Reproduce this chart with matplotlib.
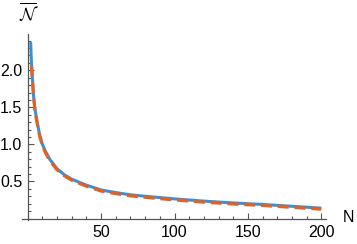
import matplotlib
matplotlib.use('Agg')
from matplotlib import pyplot as plt
from matplotlib.ticker import MultipleLocator, FixedLocator
import numpy as np

plt.rcParams['font.family'] = ['Liberation Sans', 'DejaVu Sans']
plt.rcParams['mathtext.fontset'] = 'cm'

# values
n_exact = [2, 2.5, 3, 4, 5, 6, 8, 10, 12, 15, 20, 25, 30, 40, 50, 60, 70, 80, 100, 120, 140, 160, 180, 200]
nbar_exact = [2.38, 2.12, 1.95, 1.65, 1.47, 1.35, 1.14, 1.0, 0.91, 0.8, 0.67, 0.59, 0.53, 0.45, 0.385, 0.35, 0.32, 0.3, 0.265, 0.235, 0.21, 0.19, 0.165, 0.14]

n_approx = [2.6, 3, 4, 5, 6, 8, 10, 12, 15, 20, 25, 30, 40, 50, 60, 70, 80, 100, 120, 140, 160, 180, 200]
nbar_approx = [2.06, 1.93, 1.63, 1.45, 1.33, 1.12, 0.98, 0.89, 0.78, 0.655, 0.575, 0.515, 0.435, 0.37, 0.335, 0.305, 0.285, 0.25, 0.22, 0.195, 0.175, 0.15, 0.125]

x_major = [50, 100, 150, 200]
y_major = [0.5, 1.0, 1.5, 2.0]

fig = plt.figure(figsize=(3.57, 2.44), dpi=100)
W, H = 357, 244
ax = fig.add_axes([22 / W, 1 - 220 / H, (326 - 22) / W, (220 - 34) / H])

ax.plot(n_exact, nbar_exact, color='#3C8FD6', lw=2.2, solid_capstyle='butt')
ax.plot(n_approx, nbar_approx, color='#E8601C', lw=2.2, dashes=(3.6, 1.9))

ax.set_xlim(-3.9, 203.2)
ax.set_ylim(-0.02, 2.49)

for s in ['top', 'right']:
    ax.spines[s].set_visible(False)
ax.spines['left'].set_position(('data', 0))
ax.spines['bottom'].set_position(('data', 0))
for s in ['left', 'bottom']:
    ax.spines[s].set_color('#555555')
    ax.spines[s].set_linewidth(0.9)

ax.xaxis.set_major_locator(FixedLocator(x_major))
ax.xaxis.set_minor_locator(MultipleLocator(10))
ax.yaxis.set_major_locator(FixedLocator(y_major))
ax.yaxis.set_minor_locator(MultipleLocator(0.1))
ax.set_yticklabels(['0.5', '1.0', '1.5', '2.0'])
ax.tick_params(which='both', direction='in', color='#555555', width=0.8, labelsize=11.5)
ax.tick_params(which='major', length=4)
ax.tick_params(which='minor', length=2.2)
ax.tick_params(axis='x', pad=5)
ax.tick_params(axis='y', pad=4)

fig.text(348 / W, 1 - 218 / H, 'N', fontsize=11.5, ha='center', va='center')
fig.text(29 / W, 1 - 13 / H, r'$\overline{\mathcal{N}}$', fontsize=13, ha='center', va='center')

fig.savefig('out.png', dpi=100)
